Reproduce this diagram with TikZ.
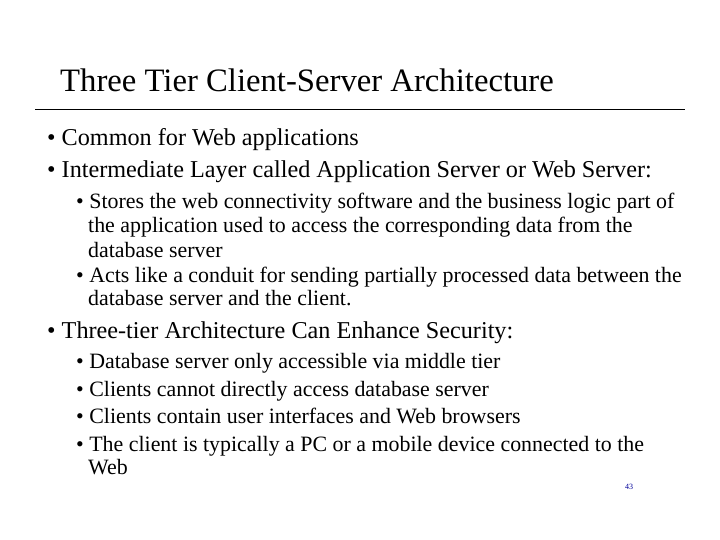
\documentclass[tikz,border=0pt]{standalone}
\usepackage{fontspec}
\setmainfont{Liberation Serif}
\usetikzlibrary{positioning}
\tikzset{
  title/.style={anchor=base west,inner sep=0pt,font=\fontsize{32.7}{36}\selectfont},
  mainitem/.style={anchor=base west,inner sep=0pt,font=\fontsize{24.2}{28}\selectfont},
  subitem/.style={anchor=base west,inner sep=0pt,font=\fontsize{21.9}{26}\selectfont},
}
\begin{document}
\begin{tikzpicture}[x=1pt,y=-1pt]
\useasboundingbox (0,0) rectangle (720,540);
\node[title] (ttl) at (60,92) {Three Tier Client-Server Architecture};
\coordinate (rl) at (35,110);
\coordinate (rr) at (685,110);
\draw[line width=1pt] (rl) -- (rr);
% first part
\node[mainitem] (b1) at (47,146) {\textbullet\ Common for Web applications};
\node[mainitem] (b2) at (47,178) {\textbullet\ Intermediate Layer called Application Server or Web Server:};
\node[subitem] (s1) at (76,209) {\textbullet\ Stores the web connectivity software and the business logic part of};
\node[subitem] (s1b) at (88,233) {the application used to access the corresponding data from the};
\node[subitem] (s1c) at (88,257) {database server};
\node[subitem] (s2) at (76,282) {\textbullet\ Acts like a conduit for sending partially processed data between the};
\node[subitem] (s2b) at (88,305) {database server and the client.};
% second part
\node[mainitem] (b3) at (47,338) {\textbullet\ Three-tier Architecture Can Enhance Security:};
\node[subitem] (t1) at (76,368) {\textbullet\ Database server only accessible via middle tier};
\node[subitem] (t2) at (76,396) {\textbullet\ Clients cannot directly access database server};
\node[subitem] (t3) at (76,423) {\textbullet\ Clients contain user interfaces and Web browsers};
\node[subitem] (t4) at (76,451) {\textbullet\ The client is typically a PC or a mobile device connected to the};
\node[subitem] (t4b) at (88,474) {Web};
\node[anchor=base west,inner sep=0pt,font=\fontsize{8}{9}\selectfont,text=blue!60!black] (pg) at (625,489) {43};
\end{tikzpicture}
\end{document}
